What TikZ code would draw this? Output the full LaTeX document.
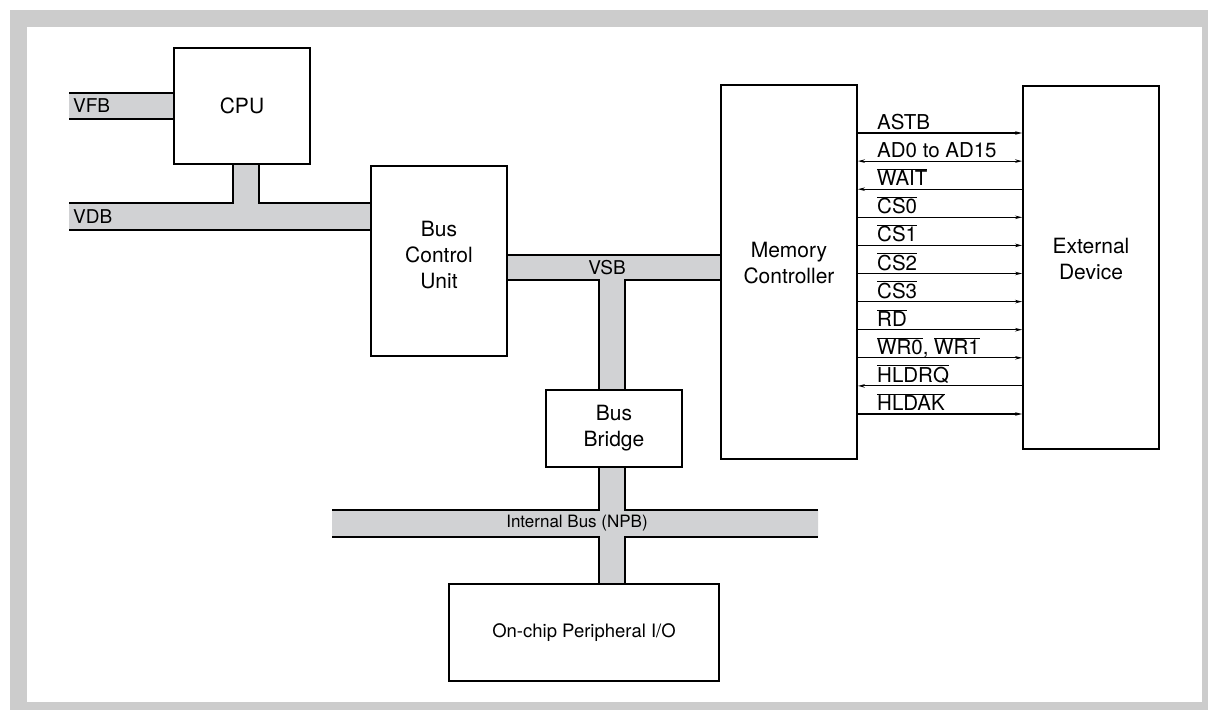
\documentclass[tikz,border=0pt]{standalone}
\usepackage{fontspec}
\setmainfont{TeX Gyre Heros}
\usetikzlibrary{arrows.meta}
\usetikzlibrary{positioning}

\definecolor{busgray}{RGB}{209,210,212}
\definecolor{framegray}{RGB}{204,204,204}
\newcommand{\sigbar}[1]{$\overline{\mbox{#1}}$}

\tikzset{
  blk/.style={draw, line width=1.8pt, fill=white, align=center, font=\fontsize{21}{26}\selectfont},
  busfill/.style={fill=busgray},
  busline/.style={line width=1.8pt},
  buslabel/.style={inner sep=0pt, font=\fontsize{19}{23}\selectfont},
  sig/.style={line width=1.1pt},
  siglabel/.style={anchor=base west, inner sep=0pt, font=\fontsize{20.5}{25}\selectfont},
}

\begin{document}
\begin{tikzpicture}[x=1pt, y=-1pt, >={Stealth[length=7pt,width=3.5pt]}]
          \useasboundingbox (0,0) rectangle (1208,710);
          \fill [framegray] (10,10) rectangle (1208,710);
          \fill [white] (27,27) rectangle (1202,702);

          % buses
          \fill [busfill] (69,93) rectangle (174,119);
          \draw [busline] (69,93) -- (174,93) (69,119) -- (174,119);

          \fill [busfill] (69,203) -- (233,203) -- (233,164) -- (259,164) -- (259,203) -- (371,203) -- (371,230) -- (69,230) -- cycle;
          \draw [busline] (69,203) -- (233,203) -- (233,164) (259,164) -- (259,203) -- (371,203) (69,230) -- (371,230);

          \fill [busfill] (507,255) -- (721,255) -- (721,280) -- (625,280) -- (625,390) -- (599,390) -- (599,280) -- (507,280) -- cycle;
          \draw [busline] (507,255) -- (721,255) (507,280) -- (599,280) -- (599,390) (625,390) -- (625,280) -- (721,280);

          \fill [busfill] (599,467) -- (625,467) -- (625,510) -- (818,510) -- (818,537) -- (625,537) -- (625,584) -- (599,584) -- (599,537) -- (332,537) -- (332,510) -- (599,510) -- cycle;
          \draw [busline] (599,467) -- (599,510) -- (332,510) (625,467) -- (625,510) -- (818,510);
          \draw [busline] (332,537) -- (599,537) -- (599,584) (625,584) -- (625,537) -- (818,537);

          \node [buslabel, anchor=west] (vfb) at (73,106) {VFB};
          \node [buslabel, anchor=west] (vdb) at (73,216.5) {VDB};
          \node [buslabel] (vsb) at (607,267.5) {VSB};
          \node [buslabel, font=\fontsize{17}{21}\selectfont] (npb) at (577,523.5) {Internal Bus (NPB)};

          % blocks
          \node [blk, minimum width=136, minimum height=116] (cpu) at (242,106) {CPU};
          \node [blk, minimum width=136, minimum height=190, text depth=12pt] (bcu) at (439,261) {Bus\\Control\\Unit};
          \node [blk, minimum width=136, minimum height=374, text depth=18pt] (mc) at (789,272) {Memory\\Controller};
          \node [blk, minimum width=136, minimum height=363, text depth=18pt] (ext) at (1091,267.5) {External\\Device};
          \node [blk, minimum width=136, minimum height=77] (bridge) at (614,428.5) {Bus\\Bridge};
          \node [blk, minimum width=270, minimum height=97, font=\fontsize{18.5}{22}\selectfont] (io) at (584,632.5) {On-chip Peripheral I/O};

          % signals
          \foreach \i/\name/\tip in {0/ASTB/->, 1/AD0 to AD15/<->, 2/\sigbar{WAIT}/<-, 3/\sigbar{CS0}/->,
                                     4/\sigbar{CS1}/->, 5/\sigbar{CS2}/->, 6/\sigbar{CS3}/->, 7/\sigbar{RD}/->,
                                     8/{\sigbar{WR0}, \sigbar{WR1}}/->, 9/\sigbar{HLDRQ}/<-, 10/\sigbar{HLDAK}/->} {
            \pgfmathsetmacro\y{133+28.1*\i}
            \draw [sig, \tip] (mc.east |- 0,\y) -- (ext.west |- 0,\y);
            \node [siglabel] (sig\i) at (877,\y-3.5) {\name};
          }
        \end{tikzpicture}
\end{document}
